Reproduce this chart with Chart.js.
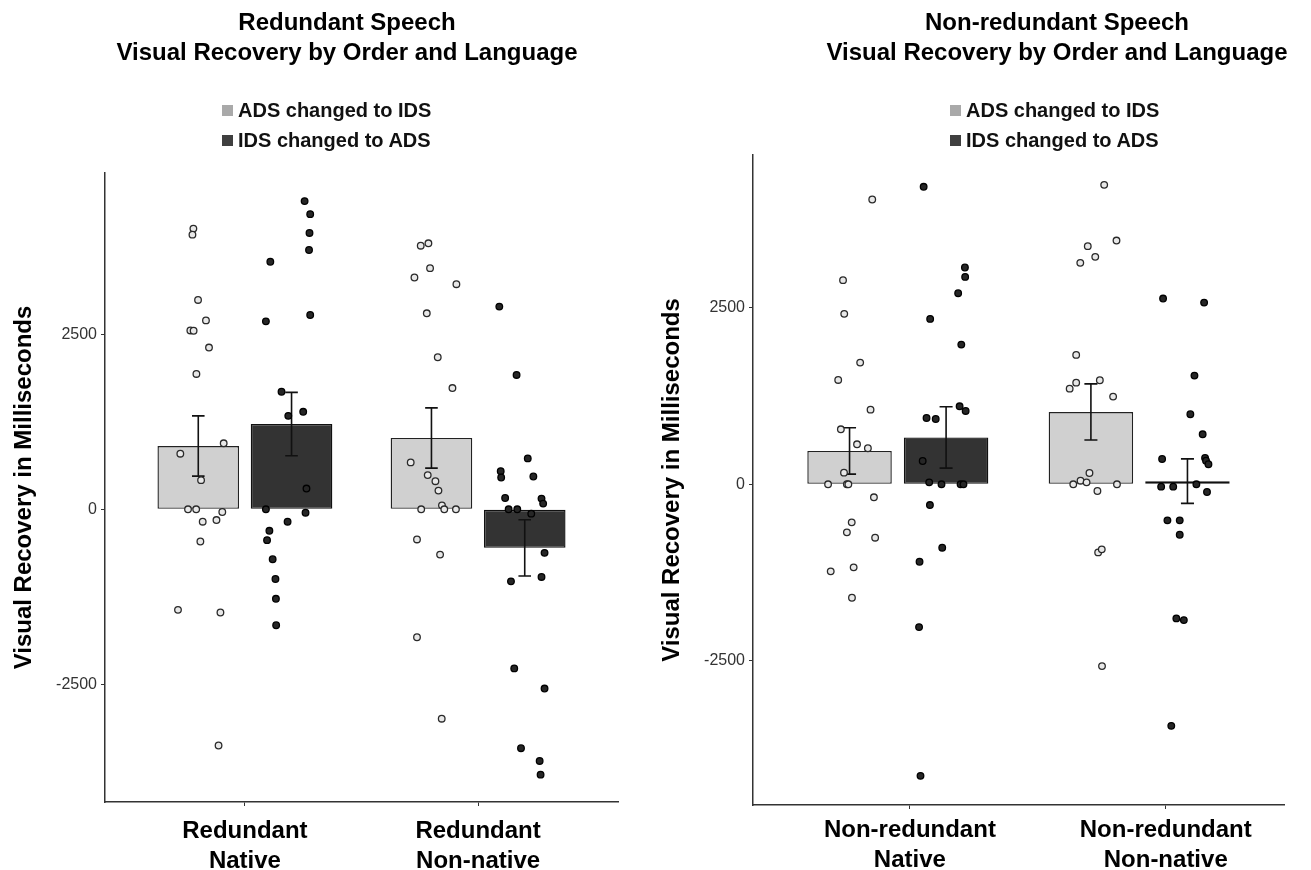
<!DOCTYPE html>
<html>
<head>
<meta charset="utf-8">
<title>Visual Recovery by Order and Language</title>
<script src="https://cdn.jsdelivr.net/npm/chart.js@4.4.1/dist/chart.umd.min.js"></script>
<style>
  html, body { margin: 0; padding: 0; background: #fff; width: 1311px; height: 870px; overflow: hidden;
    font-family: 'Liberation Sans', Arial, sans-serif; }
  .panel { position: absolute; top: 0; height: 870px; }
  .panel canvas { position: absolute; left: 0; top: 0; }
  .title { position: absolute; top: 7px; font-weight: bold; font-size: 24px; line-height: 30px;
    text-align: center; color: #000; white-space: nowrap; transform: translateX(-50%); }
  .legend { position: absolute; top: 95px; font-weight: bold; font-size: 20px; color: #111; }
  .legend .item { height: 30px; display: flex; align-items: center; white-space: nowrap; }
  .legend .sw { width: 11px; height: 11px; margin-right: 5px; flex: none; }
</style>
</head>
<body>
<div class="panel" id="panelLeft" style="left:0;width:655px;"></div>
<div class="panel" id="panelRight" style="left:655px;width:656px;"></div>
<script>
// ---- series labels and categories ----
const orderLabels = ['ADS changed to IDS', 'IDS changed to ADS'];
const redundantCategories = [['Redundant', 'Native'], ['Redundant', 'Non-native']];
const nonRedundantCategories = [['Non-redundant', 'Native'], ['Non-redundant', 'Non-native']];
const yTickValues = [-2500, 0, 2500];

// ---- group means and standard errors (ms) ----
const redundantAdsMeans = [905, 1020];
const redundantAdsSE = [431, 431];
const redundantIdsMeans = [1219, -551];
const redundantIdsSE = [453, 402];

const nonRedundantAdsMeans = [473, 1025];
const nonRedundantAdsSE = [329, 398];
const nonRedundantIdsMeans = [664, 45];
const nonRedundantIdsSE = [435, 315];

// ---- individual infants (jittered x, recovery in ms); native group first, then non-native ----
const redundantAdsX = [0.779, 0.775, 0.799, 0.833, 0.766, 0.780, 0.846, 0.792, 0.909, 0.723, 0.812, 0.756, 0.791, 0.903, 0.819, 0.878, 0.809, 0.713, 0.895, 0.887,
  1.754, 1.787, 1.794, 1.727, 1.907, 1.780, 1.827, 1.890, 1.711, 1.784, 1.817, 1.830, 1.845, 1.756, 1.855, 1.905, 1.738, 1.837, 1.738, 1.844];
const redundantAdsY = [4013, 3927, 2993, 2701, 2557, 2553, 2313, 1935, 944, 795, 417, 0, 0, -38, -177, -153, -460, -1437, -1475, -3376,
  3769, 3803, 3448, 3314, 3218, 2802, 2174, 1734, 671, 489, 402, 268, 57, 0, 0, 0, -431, -647, -1829, -2993];

const redundantIdsX = [1.256, 1.280, 1.277, 1.275, 1.109, 1.280, 1.090, 1.157, 1.250, 1.186, 1.264, 1.090, 1.260, 1.183, 1.105, 1.095, 1.119, 1.131, 1.133, 1.134,
  2.091, 2.165, 2.213, 2.097, 2.099, 2.237, 2.116, 2.272, 2.279, 2.131, 2.168, 2.228, 2.285, 2.141, 2.272, 2.155, 2.285, 2.184, 2.264, 2.268];
const redundantIdsY = [4406, 4220, 3951, 3707, 3539, 2778, 2687, 1681, 1394, 1336, 297, 0, -48, -177, -307, -441, -714, -996, -1279, -1657,
  2898, 1921, 728, 546, 455, 469, 162, 153, 82, 0, 0, -62, -622, -1030, -967, -2274, -2562, -3415, -3597, -3793];

const nonRedundantAdsX = [0.894, 0.773, 0.778, 0.844, 0.753, 0.887, 0.764, 0.831, 0.876, 0.777, 0.711, 0.789, 0.795, 0.901, 0.809, 0.789, 0.906, 0.722, 0.817, 0.810,
  1.855, 1.906, 1.787, 1.818, 1.756, 1.739, 1.739, 1.837, 1.712, 1.892, 1.794, 1.757, 1.782, 1.727, 1.908, 1.827, 1.830, 1.845, 1.846];
const nonRedundantAdsY = [4037, 2894, 2416, 1725, 1479, 1058, 780, 567, 511, 165, 0, 0, 0, -184, -539, -681, -757, -1234, -1177, -1608,
  4245, 3455, 3376, 3224, 3139, 1834, 1441, 1475, 1356, 1243, 160, 51, 28, 0, 0, -95, -965, -922, -2577];

const nonRedundantIdsX = [1.107, 1.278, 1.279, 1.250, 1.134, 1.263, 1.256, 1.281, 1.119, 1.157, 1.103, 1.130, 1.181, 1.260, 1.272, 1.133, 1.184, 1.090, 1.088, 1.094,
  2.099, 2.269, 2.229, 2.212, 2.263, 2.095, 2.273, 2.277, 2.287, 2.237, 2.091, 2.141, 2.281, 2.117, 2.168, 2.168, 2.154, 2.185, 2.133];
const nonRedundantIdsY = [4217, 3073, 2940, 2709, 2345, 1980, 1106, 1040, 940, 926, 330, 28, 0, 0, 0, -294, -899, -1098, -2024, -4133,
  2633, 2576, 1541, 993, 709, 359, 373, 335, 284, 0, -33, -33, -109, -511, -511, -715, -1901, -1925, -3424];

// ---- drawing helpers ----
Chart.defaults.font.family = "'Liberation Sans', Arial, sans-serif";

const CATEGORY_POS = [1, 2];   // categories on a continuous axis so bars and jittered points share it
const DODGE = 0.2;             // half the distance between the two order bars of a group
const CAP = 0.027;             // half width of the error-bar caps
const COLORS = {
  adsFill: '#d0d0d0', idsFill: '#333333',
  adsKey: '#a9a9a9', idsKey: '#3f3f3f',
  axis: '#333333'
};

function barPoints(means, offset) {
  return means.map((m, i) => ({ x: CATEGORY_POS[i] + offset, y: m }));
}

// mean ± SE whiskers as one broken polyline (null y ends a segment)
function errorPoints(means, se, offset) {
  const pts = [];
  means.forEach((m, i) => {
    const x = CATEGORY_POS[i] + offset, hi = m + se[i], lo = m - se[i];
    pts.push({ x: x - CAP, y: hi }, { x: x + CAP, y: hi }, { x: x, y: null },
             { x: x, y: hi }, { x: x, y: lo }, { x: x, y: null },
             { x: x - CAP, y: lo }, { x: x + CAP, y: lo }, { x: x, y: null });
  });
  return pts;
}

function jitterPoints(xs, ys) {
  return xs.map((x, i) => ({ x: x, y: ys[i] }));
}

function addHeader(panel, titleLines, titleCenter, legendLeft) {
  const t = document.createElement('div');
  t.className = 'title';
  t.style.left = titleCenter + 'px';
  t.innerHTML = titleLines.join('<br>');
  panel.appendChild(t);

  const lg = document.createElement('div');
  lg.className = 'legend';
  lg.style.left = legendLeft + 'px';
  [[orderLabels[0], COLORS.adsKey], [orderLabels[1], COLORS.idsKey]].forEach(([txt, col]) => {
    const it = document.createElement('div');
    it.className = 'item';
    const sw = document.createElement('span');
    sw.className = 'sw';
    sw.style.background = col;
    it.appendChild(sw);
    it.appendChild(document.createTextNode(txt));
    lg.appendChild(it);
  });
  panel.appendChild(lg);
}

function drawPanel(spec) {
  const panel = document.getElementById(spec.id);
  const canvas = document.createElement('canvas');
  canvas.width = spec.width;
  canvas.height = 870;
  canvas.style.width = spec.width + 'px';
  canvas.style.height = '870px';
  panel.appendChild(canvas);
  addHeader(panel, spec.title, spec.titleCenter, spec.legendLeft);

  const axisLine = { display: true, color: COLORS.axis, width: 1.5 };

  new Chart(canvas, {
    type: 'bar',
    data: {
      datasets: [
        { type: 'scatter', label: orderLabels[0], data: jitterPoints(spec.adsX, spec.adsY),
          pointRadius: 3.3, pointBorderWidth: 1.3, backgroundColor: '#e8e8e8', borderColor: '#2a2a2a', order: 1 },
        { type: 'scatter', label: orderLabels[1], data: jitterPoints(spec.idsX, spec.idsY),
          pointRadius: 3.3, pointBorderWidth: 1.3, backgroundColor: '#262626', borderColor: '#000', order: 1 },
        { type: 'line', label: 'SE ' + orderLabels[0], data: errorPoints(spec.adsMeans, spec.adsSE, -DODGE),
          borderColor: '#111', borderWidth: 1.6, pointRadius: 0, spanGaps: false, fill: false, tension: 0, order: 2 },
        { type: 'line', label: 'SE ' + orderLabels[1], data: errorPoints(spec.idsMeans, spec.idsSE, DODGE),
          borderColor: '#111', borderWidth: 1.6, pointRadius: 0, spanGaps: false, fill: false, tension: 0, order: 2 },
        { type: 'bar', label: orderLabels[0], data: barPoints(spec.adsMeans, -DODGE),
          backgroundColor: COLORS.adsFill, borderColor: '#222', borderWidth: 1.4, borderSkipped: false,
          grouped: false, categoryPercentage: 1, barPercentage: 0.875, order: 3 },
        { type: 'bar', label: orderLabels[1], data: barPoints(spec.idsMeans, DODGE),
          backgroundColor: COLORS.idsFill, borderColor: '#111', borderWidth: 1.4, borderSkipped: false,
          grouped: false, categoryPercentage: 1, barPercentage: 0.875, order: 3 }
      ]
    },
    options: {
      responsive: false,
      animation: false,
      devicePixelRatio: 1,
      events: [],
      layout: { padding: { left: 0, top: spec.plotTop, right: spec.padRight, bottom: 0 } },
      plugins: { legend: { display: false }, tooltip: { enabled: false }, title: { display: false } },
      scales: {
        x: {
          type: 'linear', min: 0.4, max: 2.6, offset: false,
          afterBuildTicks: s => { s.ticks = spec.labelPos.map(v => ({ value: v })); },
          afterFit: s => { s.height = spec.xAxisHeight; },
          ticks: {
            autoSkip: false, maxRotation: 0, padding: spec.xLabelPad, color: '#000',
            font: { size: 24, weight: 'bold', lineHeight: 1.25 },
            callback: (v, i) => spec.categories[i]
          },
          grid: { drawOnChartArea: false, drawTicks: true, tickLength: 4, color: COLORS.axis, offset: false },
          border: axisLine
        },
        y: {
          type: 'linear', min: spec.yMin, max: spec.yMax,
          afterBuildTicks: s => { s.ticks = yTickValues.map(v => ({ value: v })); },
          afterFit: s => { s.width = spec.yAxisWidth; },
          ticks: { color: '#333', padding: 4, font: { size: 16 }, callback: v => String(v) },
          grid: { drawOnChartArea: false, drawTicks: true, tickLength: 4, color: COLORS.axis },
          border: axisLine,
          title: { display: true, text: 'Visual Recovery in Milliseconds', color: '#000',
                   font: { size: 24, weight: 'bold' }, padding: { top: spec.yTitlePad, bottom: 0 } }
        }
      }
    }
  });
}

drawPanel({
  id: 'panelLeft', width: 655,
  title: ['Redundant Speech', 'Visual Recovery by Order and Language'], titleCenter: 347, legendLeft: 222,
  categories: redundantCategories, labelPos: [1, 2], xLabelPad: 10,
  adsMeans: redundantAdsMeans, adsSE: redundantAdsSE, idsMeans: redundantIdsMeans, idsSE: redundantIdsSE,
  adsX: redundantAdsX, adsY: redundantAdsY, idsX: redundantIdsX, idsY: redundantIdsY,
  yMin: -4184, yMax: 4808,
  plotTop: 173, padRight: 37, yAxisWidth: 105, xAxisHeight: 68, yTitlePad: 10
});

drawPanel({
  id: 'panelRight', width: 656,
  title: ['Non-redundant Speech', 'Visual Recovery by Order and Language'], titleCenter: 402, legendLeft: 295,
  categories: nonRedundantCategories, labelPos: [1.05, 2.11], xLabelPad: 6,
  adsMeans: nonRedundantAdsMeans, adsSE: nonRedundantAdsSE, idsMeans: nonRedundantIdsMeans, idsSE: nonRedundantIdsSE,
  adsX: nonRedundantAdsX, adsY: nonRedundantAdsY, idsX: nonRedundantIdsX, idsY: nonRedundantIdsY,
  yMin: -4546, yMax: 4668,
  plotTop: 155, padRight: 27, yAxisWidth: 98, xAxisHeight: 65, yTitlePad: 3
});
</script>
</body>
</html>
